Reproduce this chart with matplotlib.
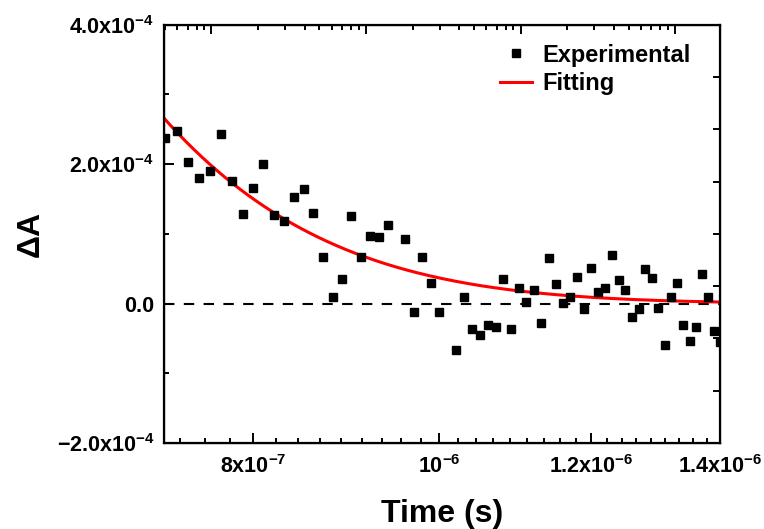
import numpy as np
import matplotlib
matplotlib.use('Agg')
import matplotlib.pyplot as plt
from matplotlib.lines import Line2D
from matplotlib.ticker import FixedLocator, NullFormatter, NullLocator

plt.rcParams['font.family'] = ['Liberation Sans', 'DejaVu Sans']
plt.rcParams['font.weight'] = 'bold'
plt.rcParams['mathtext.fontset'] = 'custom'
plt.rcParams['mathtext.rm'] = 'Liberation Sans:bold'
plt.rcParams['mathtext.bf'] = 'Liberation Sans:bold'
plt.rcParams['mathtext.default'] = 'bf'

# transient absorption decay, time in ns, dA in units of 1e-4
time_ns = [720, 730, 740, 750, 760, 770, 780, 790, 800, 810,
           820, 830, 840, 850, 860, 870, 880, 890, 900, 910,
           920, 930, 940, 960, 970, 980, 990, 1000, 1020, 1030,
           1040, 1050, 1060, 1070, 1080, 1090, 1100, 1110, 1120, 1130,
           1140, 1150, 1160, 1170, 1180, 1190, 1200, 1210, 1220, 1230,
           1240, 1250, 1260, 1270, 1280, 1290, 1300, 1310, 1320, 1330,
           1340, 1350, 1360, 1370, 1380, 1390, 1400]
dA = [2.38, 2.47, 2.03, 1.80, 1.90, 2.43, 1.76, 1.29, 1.66, 2.00,
      1.27, 1.18, 1.53, 1.64, 1.30, 0.67, 0.10, 0.35, 1.26, 0.67,
      0.97, 0.95, 1.13, 0.93, -0.12, 0.67, 0.29, -0.12, -0.66, 0.10,
      -0.36, -0.45, -0.31, -0.33, 0.35, -0.36, 0.23, 0.02, 0.20, -0.28,
      0.66, 0.28, 0.01, 0.10, 0.38, -0.08, 0.51, 0.16, 0.23, 0.69,
      0.34, 0.19, -0.19, -0.08, 0.49, 0.36, -0.07, -0.59, 0.09, 0.29,
      -0.31, -0.53, -0.33, 0.42, 0.10, -0.39, -0.55]

# single exponential fit: dA = A * exp(-(t - t0) / tau)
fit_A = 2.64e-4
fit_t0 = 7.2e-7
fit_tau = 1.42e-7

x_ticks = [8e-7, 1e-6, 1.2e-6, 1.4e-6]
x_labels = ['8x10$^{-7}$', '10$^{-6}$', '1.2x10$^{-6}$', '1.4x10$^{-6}$']
y_ticks = [-2e-4, 0, 2e-4, 4e-4]
y_labels = ['\u22122.0x10$^{-4}$', '0.0', '2.0x10$^{-4}$', '4.0x10$^{-4}$']

t = np.array(time_ns) * 1e-9
y = np.array(dA) * 1e-4

fig = plt.figure(figsize=(7.64, 5.29), dpi=100)
ax = fig.add_axes([0.2147, 0.1626, 0.7277, 0.7907])

ax.axhline(0, color='black', lw=1.5, ls=(0, (5, 4.5)), zorder=1)
t_fit = np.linspace(7.1e-7, 1.41e-6, 400)
ax.plot(t_fit, fit_A * np.exp(-(t_fit - fit_t0) / fit_tau),
        color='red', lw=2.2, zorder=2)
ax.plot(t, y, 's', color='black', ms=5.6, zorder=3)

ax.set_xscale('log')
ax.set_xlim(7.19e-7, 1.4e-6)
ax.set_ylim(-2e-4, 4e-4)

ax.xaxis.set_major_locator(FixedLocator(x_ticks))
ax.set_xticklabels(x_labels)
minor_x = [8e-7 + k * 2e-7 / 9 for k in range(-3, 27) if k % 9 != 0]
ax.xaxis.set_minor_locator(FixedLocator(minor_x))
ax.xaxis.set_minor_formatter(NullFormatter())
ax.yaxis.set_major_locator(FixedLocator(y_ticks))
ax.set_yticklabels(y_labels)
ax.yaxis.set_minor_locator(FixedLocator([-1e-4, 1e-4, 3e-4]))

ax.tick_params(which='both', direction='in', width=1.4,
               top=False, right=False, labelsize=15.5)
ax.tick_params(which='major', length=7)
ax.tick_params(which='minor', length=3.5)
ax.tick_params(axis='x', pad=9)
ax.tick_params(axis='y', pad=7)
for sp in ax.spines.values():
    sp.set_linewidth(1.6)

# top axis: log decades, ticks only
top = ax.twiny()
top.set_xscale('log')
top.set_xlim(0.493, 1954)
top.tick_params(which='both', direction='in', width=1.4,
                labeltop=False, labelbottom=False)
top.tick_params(which='major', length=6.5)
top.tick_params(which='minor', length=3.5)
top.xaxis.set_minor_formatter(NullFormatter())

# right axis: evenly spaced ticks only
right = ax.twinx()
right.set_ylim(0, 8)
right.yaxis.set_major_locator(FixedLocator(range(9)))
right.yaxis.set_minor_locator(NullLocator())
right.tick_params(direction='in', length=5, width=1.4, labelright=False)

ax.set_xlabel('Time (s)', fontsize=23, fontweight='bold')
ax.xaxis.set_label_coords(0.5, -0.133)
ax.set_ylabel('\u0394A', fontsize=23, fontweight='bold')
ax.yaxis.set_label_coords(-0.212, 0.5)

handles = [Line2D([], [], ls='none', marker='s', color='black', ms=5.6),
           Line2D([], [], color='red', lw=2.2)]
ax.legend(handles, ['Experimental', 'Fitting'], loc='upper right',
          bbox_to_anchor=(0.982, 1.0),
          frameon=False, fontsize=17, handlelength=1.35, handletextpad=0.45,
          labelspacing=0.25, borderaxespad=0.4)

fig.savefig('out.png', dpi=100)
